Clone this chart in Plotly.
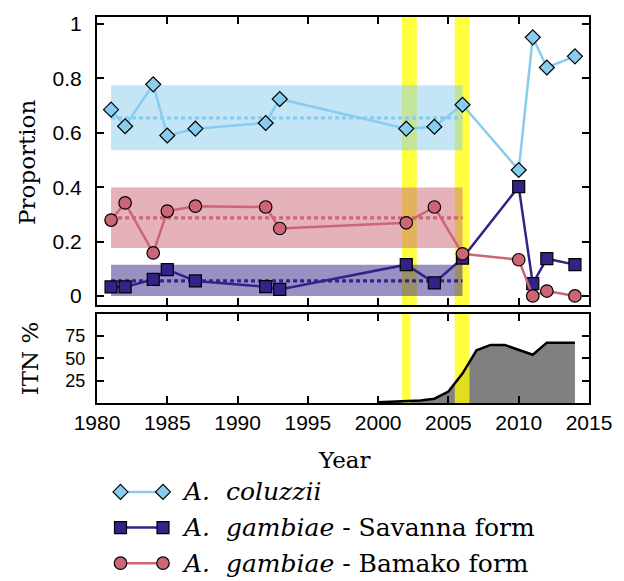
import plotly.graph_objects as go

# ---------------- data ----------------
years = [1981, 1982, 1984, 1985, 1987, 1992, 1993, 2002, 2004, 2006, 2010, 2011, 2012, 2014]
coluzzii = [0.685, 0.624, 0.778, 0.590, 0.615, 0.636, 0.724, 0.615, 0.622, 0.703, 0.463, 0.951, 0.840, 0.881]
savanna = [0.033, 0.033, 0.061, 0.097, 0.055, 0.034, 0.024, 0.115, 0.048, 0.139, 0.402, 0.045, 0.137, 0.115]
bamako = [0.279, 0.342, 0.158, 0.312, 0.330, 0.327, 0.248, 0.269, 0.327, 0.155, 0.133, 0.000, 0.018, 0.000]

# pre-ITN mean and range bands (coluzzii, savanna, bamako)
band_years = [1981, 2006]
band_mean = [0.655, 0.055, 0.287]
band_lo = [0.536, 0.000, 0.176]
band_hi = [0.775, 0.115, 0.399]

# ITN coverage (%)
itn_years = [2000, 2001, 2002, 2003, 2004, 2005, 2006, 2007, 2008, 2009, 2011, 2012, 2014]
itn_vals = [1.0, 1.5, 2.0, 3.0, 5.0, 13.0, 33.0, 59.0, 65.0, 65.0, 54.0, 67.5, 67.5]

# highlighted periods
yellow_top = [(2001.7, 2002.75), (2005.45, 2006.5)]
yellow_bottom = [(2001.7, 2002.3), (2005.45, 2006.5)]

x_ticks = [1980, 1985, 1990, 1995, 2000, 2005, 2010, 2015]
prop_ticks = [0, 0.2, 0.4, 0.6, 0.8, 1]
itn_ticks = [25, 50, 75]

names = ["<i>A.\u00a0 coluzzii</i>",
         "<i>A.\u00a0 gambiae</i> - Savanna form",
         "<i>A.\u00a0 gambiae</i> - Bamako form"]

# ---------------- style ----------------
C_COL = "#88CCEE"
C_SAV = "#332288"
C_BAM = "#CC6677"
BAND = ["rgba(136,204,238,0.5)", "rgba(51,34,136,0.5)", "rgba(204,102,119,0.5)"]
YEL = "rgba(255,255,0,0.75)"
SERIF = "DejaVu Serif"
SANS = "Liberation Sans"

OFF = 8                 # page body margin
W, H = 624 - OFF, 581 - OFF
ML, MR = 97 - OFF, 35

def py(p):  # reference pixel y -> paper y
    return (H - (p - OFF)) / H

def px(p):  # reference pixel x -> paper x
    return ((p - OFF) - ML) / (W - ML - MR)

fig = go.Figure()

series = [(coluzzii, C_COL, "diamond", 11.5),
          (savanna, C_SAV, "square", 12),
          (bamako, C_BAM, "circle", 12.5)]

# dotted mean lines
for i, (vals, col, sym, sz) in enumerate(series):
    fig.add_trace(go.Scatter(x=band_years, y=[band_mean[i]] * 2, mode="lines",
                             line=dict(color=col, width=3.2, dash="4px,3px"),
                             xaxis="x", yaxis="y", showlegend=False, hoverinfo="skip"))

for vals, col, sym, sz in series:
    fig.add_trace(go.Scatter(x=years, y=vals, mode="lines+markers",
                             line=dict(color=col, width=2.5),
                             marker=dict(symbol=sym, size=sz, color=col,
                                         line=dict(color="black", width=1.2)),
                             xaxis="x", yaxis="y", showlegend=False))

# ITN panel: fill, yellow periods, line
fig.add_trace(go.Scatter(x=itn_years, y=itn_vals, mode="lines", fill="tozeroy",
                         fillcolor="#808080", line=dict(width=0, color="#808080"),
                         xaxis="x2", yaxis="y2", showlegend=False, hoverinfo="skip"))
ITN_TOP = 100
for a, b in yellow_bottom:
    fig.add_trace(go.Scatter(x=[a, b, b, a, a], y=[0, 0, ITN_TOP, ITN_TOP, 0],
                             mode="lines", fill="toself", fillcolor=YEL,
                             line=dict(width=0), xaxis="x2", yaxis="y2",
                             showlegend=False, hoverinfo="skip"))
fig.add_trace(go.Scatter(x=itn_years, y=itn_vals, mode="lines",
                         line=dict(color="black", width=2.5),
                         xaxis="x2", yaxis="y2", showlegend=False))

# custom legend (two markers joined by a line); axis units = reference pixels
leg_rows = [493, 529, 565]
for (vals, col, sym, sz), row, name in zip(series, leg_rows, names):
    fig.add_trace(go.Scatter(x=[120.5, 163], y=[row, row], mode="lines+markers",
                             line=dict(color=col, width=2.5),
                             marker=dict(symbol=sym, size=sz, color=col,
                                         line=dict(color="black", width=1.2)),
                             xaxis="x3", yaxis="y3", showlegend=False, hoverinfo="skip"))
    fig.add_annotation(x=180, y=row, xref="x3", yref="y3", text=name,
                       showarrow=False, xanchor="left", yanchor="middle",
                       font=dict(family=SERIF, size=25, color="black"))

# shapes: bands then yellow in top panel
shapes = []
for i in range(3):
    shapes.append(dict(type="rect", xref="x", yref="y", x0=band_years[0], x1=band_years[1],
                       y0=band_lo[i], y1=band_hi[i], fillcolor=BAND[i],
                       line=dict(width=0), layer="below"))
for a, b in yellow_top:
    shapes.append(dict(type="rect", xref="x", yref="y domain", x0=a, x1=b, y0=0, y1=1,
                       fillcolor=YEL, line=dict(width=0), layer="below"))

axis_common = dict(showline=True, linewidth=2, linecolor="black", mirror="allticks",
                   ticks="inside", ticklen=7, tickwidth=1.5, tickcolor="black",
                   showgrid=False, zeroline=False,
                   tickfont=dict(family=SANS, size=21, color="black"))

fig.update_layout(
    width=W, height=H,
    margin=dict(l=ML, r=MR, t=0, b=0),
    paper_bgcolor="white", plot_bgcolor="rgba(0,0,0,0)",
    showlegend=False,
    shapes=shapes,
    xaxis=dict(domain=[0, 1], range=[1980, 2015], tickvals=x_ticks,
               showticklabels=False, anchor="y", **axis_common),
    yaxis=dict(domain=[py(304), py(12.7)], range=[-0.033, 1.027], tickvals=prop_ticks,
               anchor="x", ticklabelstandoff=9, **axis_common),
    xaxis2=dict(domain=[0, 1], range=[1980, 2015], tickvals=x_ticks,
                anchor="y2", ticklabelstandoff=0, **axis_common),
    yaxis2=dict(domain=[py(403.3), py(312.7)], range=[0, 100], tickvals=itn_ticks,
                anchor="x2", ticklabelstandoff=6,
                **{**axis_common, "tickfont": dict(family=SANS, size=18, color="black")}),
    xaxis3=dict(domain=[0, 1], range=[ML + OFF, W - MR + OFF], visible=False, anchor="y3"),
    yaxis3=dict(domain=[0, py(470)], range=[H + OFF, 470], visible=False, anchor="x3"),
)

fig.add_annotation(x=px(27.5), y=py(160), xref="paper", yref="paper", text="Proportion",
                   textangle=-90, showarrow=False, xanchor="center", yanchor="middle",
                   font=dict(family=SERIF, size=23, color="black"))
fig.add_annotation(x=px(30), y=py(358), xref="paper", yref="paper", text="ITN %",
                   textangle=-90, showarrow=False, xanchor="center", yanchor="middle",
                   font=dict(family=SERIF, size=23, color="black"))
fig.add_annotation(x=px(344), y=py(461), xref="paper", yref="paper", text="Year",
                   showarrow=False, xanchor="center", yanchor="middle",
                   font=dict(family=SERIF, size=23, color="black"))

fig.write_html("out.html")
